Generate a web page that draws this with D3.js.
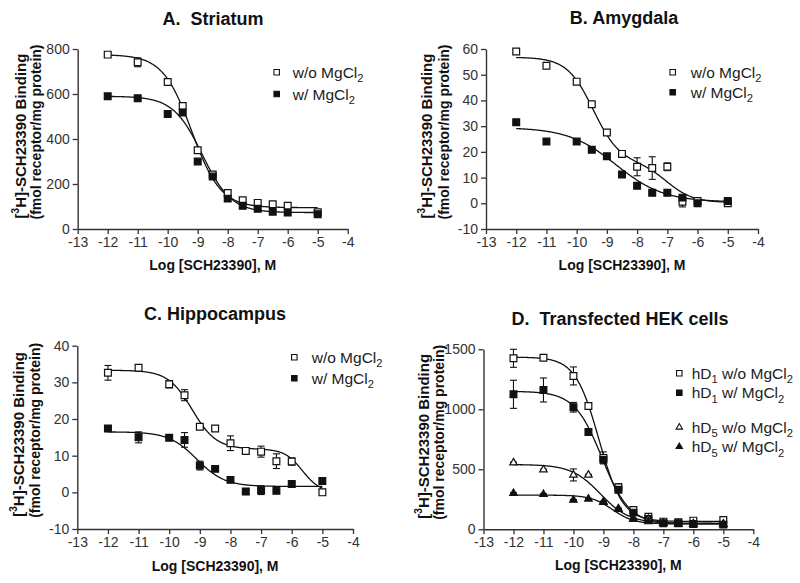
<!DOCTYPE html>
<html><head><meta charset="utf-8">
<script src="https://cdn.jsdelivr.net/npm/d3@7"></script>
<style>body{margin:0;background:#fff}</style>
</head><body>
<svg id="chart" width="800" height="583"></svg>
<script>
// ---------------- DATA ----------------
const logConc = [-12, -11, -10, -9.5, -9, -8.5, -8, -7.5, -7, -6.5, -6, -5];
const xTickValues = [-13, -12, -11, -10, -9, -8, -7, -6, -5, -4];
const panelTitles = ["A.  Striatum", "B. Amygdala", "C. Hippocampus", "D.  Transfected HEK cells"];
const yTicksA = [0, 200, 400, 600, 800];
const yTicksB = [-10, 0, 10, 20, 30, 40, 50, 60];
const yTicksC = [-10, 0, 10, 20, 30, 40];
const yTicksD = [0, 500, 1000, 1500];

// A. Striatum
const striatumWo    = [775, 741, 653, 547, 350, 242, 160, 128, 116, 110, 103, 74];
const striatumWoErr = [10, 20, 8, 10, 8, 8, 6, 6, 5, 5, 5, 5];
const striatumW     = [590, 581, 511, 518, 300, 233, 135, 103, 90, 77, 73, 66];
const striatumWErr  = [5, 5, 8, 10, 8, 8, 6, 6, 5, 5, 5, 5];
const striatumWoFit = [775, 95, -9.2, 0.9];     // top, bottom, logIC50, hill
const striatumWFit  = [590, 73, -8.85, 0.9];

// B. Amygdala
const amygWo    = [59, 53.5, 47.3, 38.5, 27.5, 19.2, 14.2, 13.7, 14.2, 0.6, 0.9, 0];
const amygWoErr = [0.5, 0.5, 0.5, 0.5, 0.5, 0.5, 3.5, 4.4, 1.5, 2.0, 0.5, 0.5];
const amygW     = [31.5, 24, 24, 20.8, 18.3, 11.2, 6.8, 4.1, 4.1, 2.2, 0, 0.9];
const amygWErr  = [0.5, 0.5, 0.8, 0.5, 0.8, 0.5, 0.8, 0.5, 0.5, 0.5, 0.5, 0.5];
const amygWoFit = [56.8, 16, 0.3, -9.45, 1, -7.0, 1];  // two-site: top, plateau, bottom, ic1, h1, ic2, h2
const amygWFit  = [29.5, 0.5, -8.7, 0.55];

// C. Hippocampus
const hippoWo    = [32.6, 34.0, 29.5, 26.5, 17.9, 17.4, 13.4, 11.3, 11.1, 8.5, 8.4, 0];
const hippoWoErr = [2.0, 0.8, 1.0, 1.5, 0.5, 0.5, 2.0, 0.8, 1.5, 2.0, 1.0, 0.8];
const hippoW     = [17.4, 15.0, 14.9, 14.3, 7.3, 6.4, 3.4, 0.2, 0.6, 0.4, 2.3, 3.1];
const hippoWErr  = [0.8, 1.5, 0.7, 2.0, 1.2, 0.3, 0.3, 0.8, 1.2, 0.3, 0.3, 0.3];
const hippoWoFit = [33.3, 11.8, 0, -9.25, 1.1, -5.65, 1.5];
const hippoWFit  = [16.5, 1.6, -9.1, 0.95];

// D. Transfected HEK cells
const d1Wo    = [1425, 1430, 1278, 1028, 595, 350, 161, 105, 64, 58, 72, 78];
const d1WoErr = [75, 10, 75, 25, 50, 30, 10, 10, 5, 5, 5, 5];
const d1W     = [1125, 1161, 1017, 811, 580, 330, 139, 86, 50, 50, 44, 39];
const d1WErr  = [117, 100, 40, 10, 20, 20, 10, 10, 5, 5, 5, 5];
const d5Wo    = [555, 497, 453, 453, 230, 172, 86, 86, 50, 42, 48, 45];
const d5WoErr = [5, 5, 50, 5, 5, 5, 5, 5, 5, 5, 5, 5];
const d5W     = [300, 292, 244, 253, 225, 168, 86, 64, 50, 42, 40, 40];
const d5WErr  = [5, 5, 5, 5, 5, 5, 5, 5, 5, 5, 5, 5];
const d1WoFit = [1435, 65, -9.15, 1.1];
const d1WFit  = [1150, 45, -9.05, 0.95];
const d5WoFit = [540, 50, -9.1, 0.9];
const d5WFit  = [285, 45, -8.7, 1.2];

// ---------------- LAYOUT ----------------
const FONT = "'Liberation Sans', Arial, Helvetica, sans-serif";
const panels = [
  { title: panelTitles[0], titleX: 213, titleY: 25, xr: [77.7, 347.7], yr: [229, 49], yd: [0, 800], yTicks: yTicksA,
    xTitleY: 270, yt1: -52, yt2: -37,
    legend: { sx: 276.7, tx: 292.7, rows: [72.3, 94] },
    series: [
      { name: ["w/o MgCl", "2"], vals: striatumWo, err: striatumWoErr, fit: striatumWoFit, sym: "square", open: true },
      { name: ["w/ MgCl", "2"], vals: striatumW, err: striatumWErr, fit: striatumWFit, sym: "square", open: false }
    ] },
  { title: panelTitles[1], titleX: 624, titleY: 24, xr: [486, 758], yr: [229, 49], yd: [-10, 60], yTicks: yTicksB,
    xTitleY: 270, yt1: -54, yt2: -37,
    legend: { sx: 672.7, tx: 690.7, rows: [72.3, 92.3] },
    series: [
      { name: ["w/o MgCl", "2"], vals: amygWo, err: amygWoErr, fit: amygWoFit, sym: "square", open: true },
      { name: ["w/ MgCl", "2"], vals: amygW, err: amygWErr, fit: amygWFit, sym: "square", open: false }
    ] },
  { title: panelTitles[2], titleX: 215, titleY: 320, xr: [77.3, 353], yr: [529, 345.7], yd: [-10, 40], yTicks: yTicksC,
    xTitleY: 570.5, yt1: -53, yt2: -37,
    legend: { sx: 294.3, tx: 311.7, rows: [357.3, 378.3] },
    series: [
      { name: ["w/o MgCl", "2"], vals: hippoWo, err: hippoWoErr, fit: hippoWoFit, sym: "square", open: true },
      { name: ["w/ MgCl", "2"], vals: hippoW, err: hippoWErr, fit: hippoWFit, sym: "square", open: false }
    ] },
  { title: panelTitles[3], titleX: 620, titleY: 325, xr: [483.5, 753.3], yr: [529.3, 349.3], yd: [0, 1500], yTicks: yTicksD,
    xTitleY: 570, yt1: -54.5, yt2: -40,
    legend: { sx: 679.3, tx: 691.7, rows: [373.3, 392.7, 427.3, 446.7] },
    series: [
      { name: ["hD", "1", " w/o MgCl", "2"], vals: d1Wo, err: d1WoErr, fit: d1WoFit, sym: "square", open: true },
      { name: ["hD", "1", " w/ MgCl", "2"], vals: d1W, err: d1WErr, fit: d1WFit, sym: "square", open: false },
      { name: ["hD", "5", " w/o MgCl", "2"], vals: d5Wo, err: d5WoErr, fit: d5WoFit, sym: "triangle", open: true },
      { name: ["hD", "5", " w/ MgCl", "2"], vals: d5W, err: d5WErr, fit: d5WFit, sym: "triangle", open: false }
    ] }
];

function fitValue(p, x) {
  if (p.length === 4) {
    const [top, bottom, ic, h] = p;
    return bottom + (top - bottom) / (1 + Math.pow(10, (x - ic) * h));
  }
  const [top, plateau, bottom, ic1, h1, ic2, h2] = p;
  return bottom + (top - plateau) / (1 + Math.pow(10, (x - ic1) * h1))
                + (plateau - bottom) / (1 + Math.pow(10, (x - ic2) * h2));
}

const svg = d3.select("#chart");
const curveX = d3.range(-12, -4.999, 0.02);

function symbolPath(sym, small) {
  if (sym === "square") return d3.symbol(d3.symbolSquare, small ? 30 : 46)();
  return d3.symbol(d3.symbolTriangle, small ? 18 : 24)();
}

function addLabel(sel, parts, fs) {
  parts.forEach((t, i) => {
    const sub = i % 2 === 1;
    const ts = sel.append("tspan").text(t);
    if (sub) ts.attr("font-size", fs * 0.72).attr("dy", fs * 0.28);
    else if (i > 0) ts.attr("dy", -fs * 0.28);
  });
}

panels.forEach(P => {
  const g = svg.append("g");
  const x = d3.scaleLinear().domain([-13, -4]).range(P.xr);
  const y = d3.scaleLinear().domain(P.yd).range(P.yr);

  const xAxis = g.append("g").attr("transform", `translate(0,${P.yr[0]})`)
    .call(d3.axisBottom(x).tickValues(xTickValues).tickSize(5).tickSizeOuter(0).tickPadding(3).tickFormat(d3.format("d")));
  const yAxis = g.append("g").attr("transform", `translate(${P.xr[0]},0)`)
    .call(d3.axisLeft(y).tickValues(P.yTicks).tickSize(5).tickSizeOuter(0).tickPadding(3).tickFormat(d3.format("d")));
  [xAxis, yAxis].forEach(a => {
    a.select(".domain").attr("stroke", "#333").attr("stroke-width", 1.4);
    a.selectAll(".tick line").attr("stroke", "#333").attr("stroke-width", 1.3);
    a.selectAll(".tick text").attr("fill", "#333").attr("font-size", 14).attr("font-family", FONT);
  });
  xAxis.selectAll(".tick text").text(d => d < 0 ? "-" + Math.abs(d) : d);
  yAxis.selectAll(".tick text").text(d => d < 0 ? "-" + Math.abs(d) : d);

  g.append("text").attr("x", P.titleX).attr("y", P.titleY).attr("text-anchor", "middle")
    .attr("font-family", FONT).attr("font-weight", "bold").attr("font-size", 18).attr("fill", "#111")
    .attr("xml:space", "preserve").style("white-space", "pre").text(P.title);

  g.append("text").attr("x", (P.xr[0] + P.xr[1]) / 2).attr("y", P.xTitleY).attr("text-anchor", "middle")
    .attr("font-family", FONT).attr("font-weight", "bold").attr("font-size", 14).attr("fill", "#111")
    .text("Log [SCH23390], M");

  const cy = (P.yr[0] + P.yr[1]) / 2;
  const t1 = g.append("text").attr("transform", `translate(${P.xr[0] + P.yt1},${cy - 3}) rotate(-90)`)
    .attr("text-anchor", "middle").attr("font-family", FONT).attr("font-weight", "bold")
    .attr("font-size", 15).attr("fill", "#111");
  t1.append("tspan").text("[");
  t1.append("tspan").attr("font-size", 10).attr("dy", -7).text("3");
  t1.append("tspan").attr("dy", 7).text("H]-SCH23390 Binding");
  g.append("text").attr("transform", `translate(${P.xr[0] + P.yt2},${cy - 7}) rotate(-90)`)
    .attr("text-anchor", "middle").attr("font-family", FONT).attr("font-weight", "bold")
    .attr("font-size", 14).attr("fill", "#111").text("(fmol receptor/mg protein)");

  P.series.forEach(s => {
    const pts = curveX.map(cx => ({ cx, v: fitValue(s.fit, cx) }));
    g.append("path").datum(pts)
      .attr("d", d3.line().x(d => x(d.cx)).y(d => y(d.v)))
      .attr("fill", "none").attr("stroke", "#111").attr("stroke-width", 1.3);
  });

  P.series.forEach(s => {
    const eg = g.append("g").attr("stroke", "#111").attr("stroke-width", 1.1);
    logConc.forEach((c, i) => {
      const cxp = x(c), y1 = y(s.vals[i] + s.err[i]), y2 = y(s.vals[i] - s.err[i]);
      eg.append("line").attr("x1", cxp).attr("x2", cxp).attr("y1", y1).attr("y2", y2);
      eg.append("line").attr("x1", cxp - 3.5).attr("x2", cxp + 3.5).attr("y1", y1).attr("y2", y1);
      eg.append("line").attr("x1", cxp - 3.5).attr("x2", cxp + 3.5).attr("y1", y2).attr("y2", y2);
    });
  });

  P.series.forEach(s => {
    g.append("g").selectAll("path").data(logConc).join("path")
      .attr("d", symbolPath(s.sym, false))
      .attr("transform", (c, i) => `translate(${x(c)},${y(s.vals[i])})`)
      .attr("fill", s.open ? "#fff" : "#111").attr("stroke", "#111").attr("stroke-width", 1.2);
  });

  P.series.forEach((s, i) => {
    const ry = P.legend.rows[i];
    g.append("path").attr("d", symbolPath(s.sym, true))
      .attr("transform", `translate(${P.legend.sx},${ry})`)
      .attr("fill", s.open ? "#fff" : "#111").attr("stroke", "#111").attr("stroke-width", 1.1);
    const t = g.append("text").attr("x", P.legend.tx).attr("y", ry + 5.5)
      .attr("font-family", FONT).attr("font-size", 15.5).attr("fill", "#222")
      .attr("xml:space", "preserve").style("white-space", "pre");
    addLabel(t, s.name, 15.5);
  });
});
</script>
</body></html>
